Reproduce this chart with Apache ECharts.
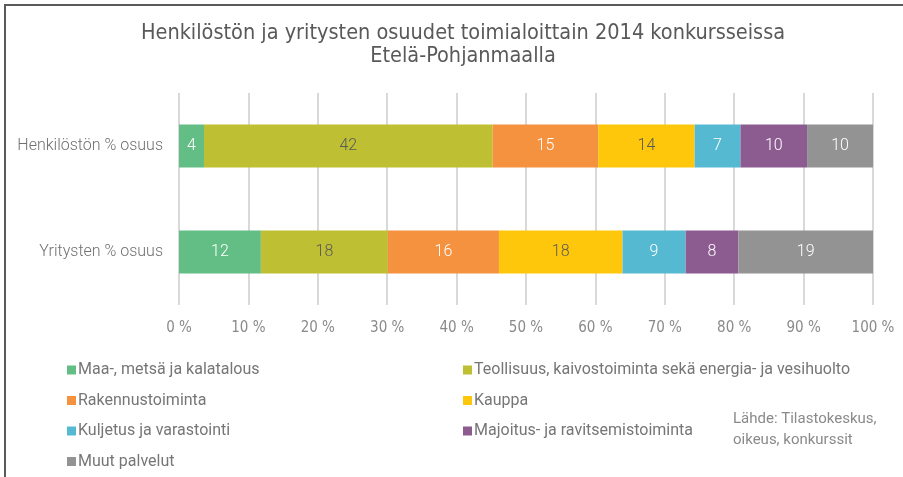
<!DOCTYPE html>
<html>
<head>
<meta charset="utf-8">
<script src="https://cdn.jsdelivr.net/npm/echarts@6/dist/echarts.min.js"></script>
<style>
  html, body { margin: 0; padding: 0; background: #fff; }
  #chart { width: 903px; height: 477px; }
</style>
</head>
<body>
<div id="chart"></div>
<script>
// rivit (ylhäältä alas)
const categories = ['Henkilöstön % osuus', 'Yritysten % osuus'];
// toimialat
const sectors = [
  'Maa-, metsä ja kalatalous',
  'Teollisuus, kaivostoiminta sekä energia- ja vesihuolto',
  'Rakennustoiminta',
  'Kauppa',
  'Kuljetus ja varastointi',
  'Majoitus- ja ravitsemistoiminta',
  'Muut palvelut'
];
// osuudet %, [henkilöstö, yritykset]
const maa = [3.6, 11.8];
const teollisuus = [41.6, 18.3];
const rakennus = [15.2, 16.0];
const kauppa = [13.9, 17.8];
const kuljetus = [6.6, 9.1];
const majoitus = [9.6, 7.6];
const muut = [9.5, 19.4];
const xTicks = [0, 10, 20, 30, 40, 50, 60, 70, 80, 90, 100];

const colors = ['#63be86', '#bfbf33', '#f4923f', '#fec70c', '#56b9d2', '#8c5c91', '#939393'];
const labelColors = ['#fff', '#595959', '#fff', '#595959', '#fff', '#fff', '#fff'];
const values = [maa, teollisuus, rakennus, kauppa, kuljetus, majoitus, muut];

const chart = echarts.init(document.getElementById('chart'));

const series = sectors.map((name, i) => ({
  name: name,
  type: 'bar',
  stack: 'total',
  barWidth: 43,
  data: values[i],
  itemStyle: { color: colors[i] },
  label: {
    show: true,
    position: 'inside',
    color: labelColors[i],
    fontSize: 16,
    fontFamily: 'Roboto',
    fontWeight: 300,
    formatter: p => Math.round(p.value)
  },
  emphasis: { disabled: true }
}));

const legendText = { color: '#767676', fontSize: 16, fontFamily: 'Roboto', padding: [0, 0, 0, -3] };

const option = {
  animation: false,
  title: {
    text: 'Henkilöstön ja yritysten osuudet toimialoittain 2014 konkursseissa\nEtelä-Pohjanmaalla',
    left: 458,
    textAlign: 'center',
    top: 17,
    textStyle: {
      color: '#595959',
      fontSize: 21.5,
      fontWeight: 'normal',
      fontFamily: 'Liberation Sans Narrow, DejaVu Sans Condensed, sans-serif',
      lineHeight: 23
    }
  },
  grid: { left: 179, right: 30, top: 93, bottom: 172, containLabel: false },
  xAxis: {
    type: 'value',
    min: 0,
    max: 100,
    interval: 10,
    axisLine: { show: false },
    axisTick: { show: false },
    splitLine: { lineStyle: { color: '#d9d9d9', width: 2 } },
    axisLabel: {
      color: '#8a8a8a',
      fontSize: 15,
      fontFamily: 'Liberation Sans Narrow, DejaVu Sans Condensed, sans-serif',
      margin: 16,
      formatter: v => xTicks.includes(v) ? v + ' %' : ''
    }
  },
  yAxis: {
    type: 'category',
    inverse: true,
    data: categories,
    axisLine: { show: false },
    axisTick: { show: false },
    axisLabel: {
      color: '#707070',
      fontSize: 16,
      fontFamily: 'Roboto',
      fontWeight: 300,
      margin: 16
    }
  },
  legend: [
    {
      orient: 'vertical',
      left: 62,
      top: 357,
      itemGap: 14.5,
      itemWidth: 9,
      itemHeight: 9,
      icon: 'rect',
      textStyle: legendText,
      data: [sectors[0], sectors[2], sectors[4], sectors[6]]
    },
    {
      orient: 'vertical',
      left: 458,
      top: 357,
      itemGap: 14.5,
      itemWidth: 9,
      itemHeight: 9,
      icon: 'rect',
      textStyle: legendText,
      data: [sectors[1], sectors[3], sectors[5]]
    }
  ],
  graphic: [
    { type: 'rect', shape: { x: 5, y: 4, width: 898, height: 2 }, style: { fill: '#5a5a5a' } },
    { type: 'rect', shape: { x: 4, y: 4, width: 2, height: 473 }, style: { fill: '#5a5a5a' } },
    {
      type: 'text',
      left: 733,
      top: 409,
      style: {
        text: 'Lähde: Tilastokeskus,\noikeus, konkurssit',
        fill: '#8a8a8a',
        fontSize: 15,
        fontFamily: 'Roboto',
        lineHeight: 21
      }
    }
  ],
  series: series
};

chart.setOption(option);
</script>
</body>
</html>
